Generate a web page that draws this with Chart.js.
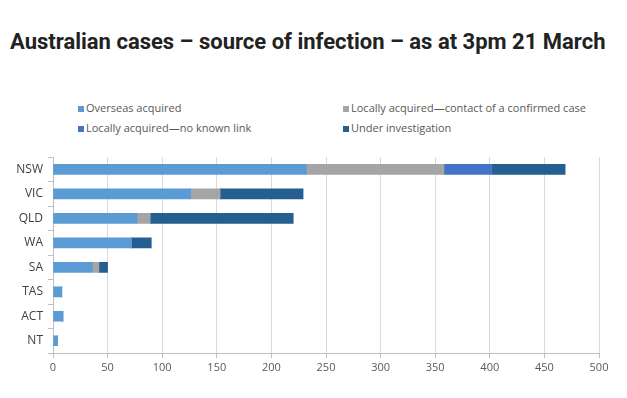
<!DOCTYPE html>
<html>
<head>
<meta charset="utf-8">
<script src="https://cdn.jsdelivr.net/npm/chart.js@4/dist/chart.umd.min.js"></script>
<style>
	body { margin: 0; background: #fff; width: 627px; height: 398px; position: relative; overflow: hidden; }
	#title { position: absolute; left: 10px; top: 29px; font: bold 22px Roboto, sans-serif; color: #222; white-space: nowrap; }
	.leg { position: absolute; font: 11px "Open Sans", sans-serif; color: #595959; white-space: nowrap; }
	.leg span { display: inline-block; width: 6px; height: 6px; margin-right: 2px; }
	#wrap { position: absolute; left: 0; top: 145px; width: 627px; height: 237px; }
</style>
</head>
<body>
<div id="title">Australian cases – source of infection – as at 3pm 21 March</div>
<div id="legend"></div>
<div id="wrap"><canvas id="chart"></canvas></div>
<script>
// Source of infection by state
const states = ['NSW', 'VIC', 'QLD', 'WA', 'SA', 'TAS', 'ACT', 'NT'];
const overseas = [232, 126, 77, 72, 36, 8, 9, 4];
const contact = [126, 27, 12, 0, 6, 0, 0, 0];
const noLink = [44, 0, 0, 0, 0, 0, 0, 0];
const investigating = [67, 76, 131, 18, 8, 0, 0, 0];
const seriesNames = [
	'Overseas acquired',
	'Locally acquired—contact of a confirmed case',
	'Locally acquired—no known link',
	'Under investigation'
];
const colors = ['#5b9bd5', '#a5a5a5', '#4472c4', '#255e91'];
const xTicks = [0, 50, 100, 150, 200, 250, 300, 350, 400, 450, 500];

// legend in two columns
const legPos = [[78, 100], [343, 100], [78, 120], [343, 120]];
const legend = document.getElementById('legend');
seriesNames.forEach((name, i) => {
	const d = document.createElement('div');
	d.className = 'leg';
	d.style.left = legPos[i][0] + 'px';
	d.style.top = legPos[i][1] + 'px';
	d.innerHTML = `<span style="background:${colors[i]}"></span>${name}`;
	legend.appendChild(d);
});

const ctx = document.getElementById('chart').getContext('2d');
new Chart(ctx, {
	type: 'bar',
	data: {
		labels: states,
		datasets: [overseas, contact, noLink, investigating].map((data, i) => ({
			label: seriesNames[i],
			data: data,
			backgroundColor: colors[i],
			barThickness: 10
		}))
	},
	options: {
		indexAxis: 'y',
		responsive: true,
		maintainAspectRatio: false,
		animation: false,
		layout: { padding: { top: 5, right: 28, left: 0, bottom: 0 } },
		plugins: {
			legend: { display: false },
			tooltip: { enabled: false }
		},
		scales: {
			x: {
				stacked: true,
				min: 0,
				max: 500,
				afterBuildTicks: axis => { axis.ticks = xTicks.map(v => ({ value: v })); },
				afterFit: axis => { axis.height = 29; },
				grid: { color: '#d9d9d9', tickLength: 5, tickColor: '#bfbfbf' },
				border: { color: '#bfbfbf' },
				ticks: { color: '#595959', font: { family: 'Open Sans', size: 11 }, padding: 3 }
			},
			y: {
				stacked: true,
				afterFit: axis => { axis.width = 53; },
				grid: { drawOnChartArea: false, tickLength: 5, tickColor: '#bfbfbf' },
				border: { color: '#bfbfbf' },
				ticks: { color: '#404040', font: { family: 'Open Sans', size: 12 }, padding: 5 }
			}
		}
	}
});
</script>
</body>
</html>
